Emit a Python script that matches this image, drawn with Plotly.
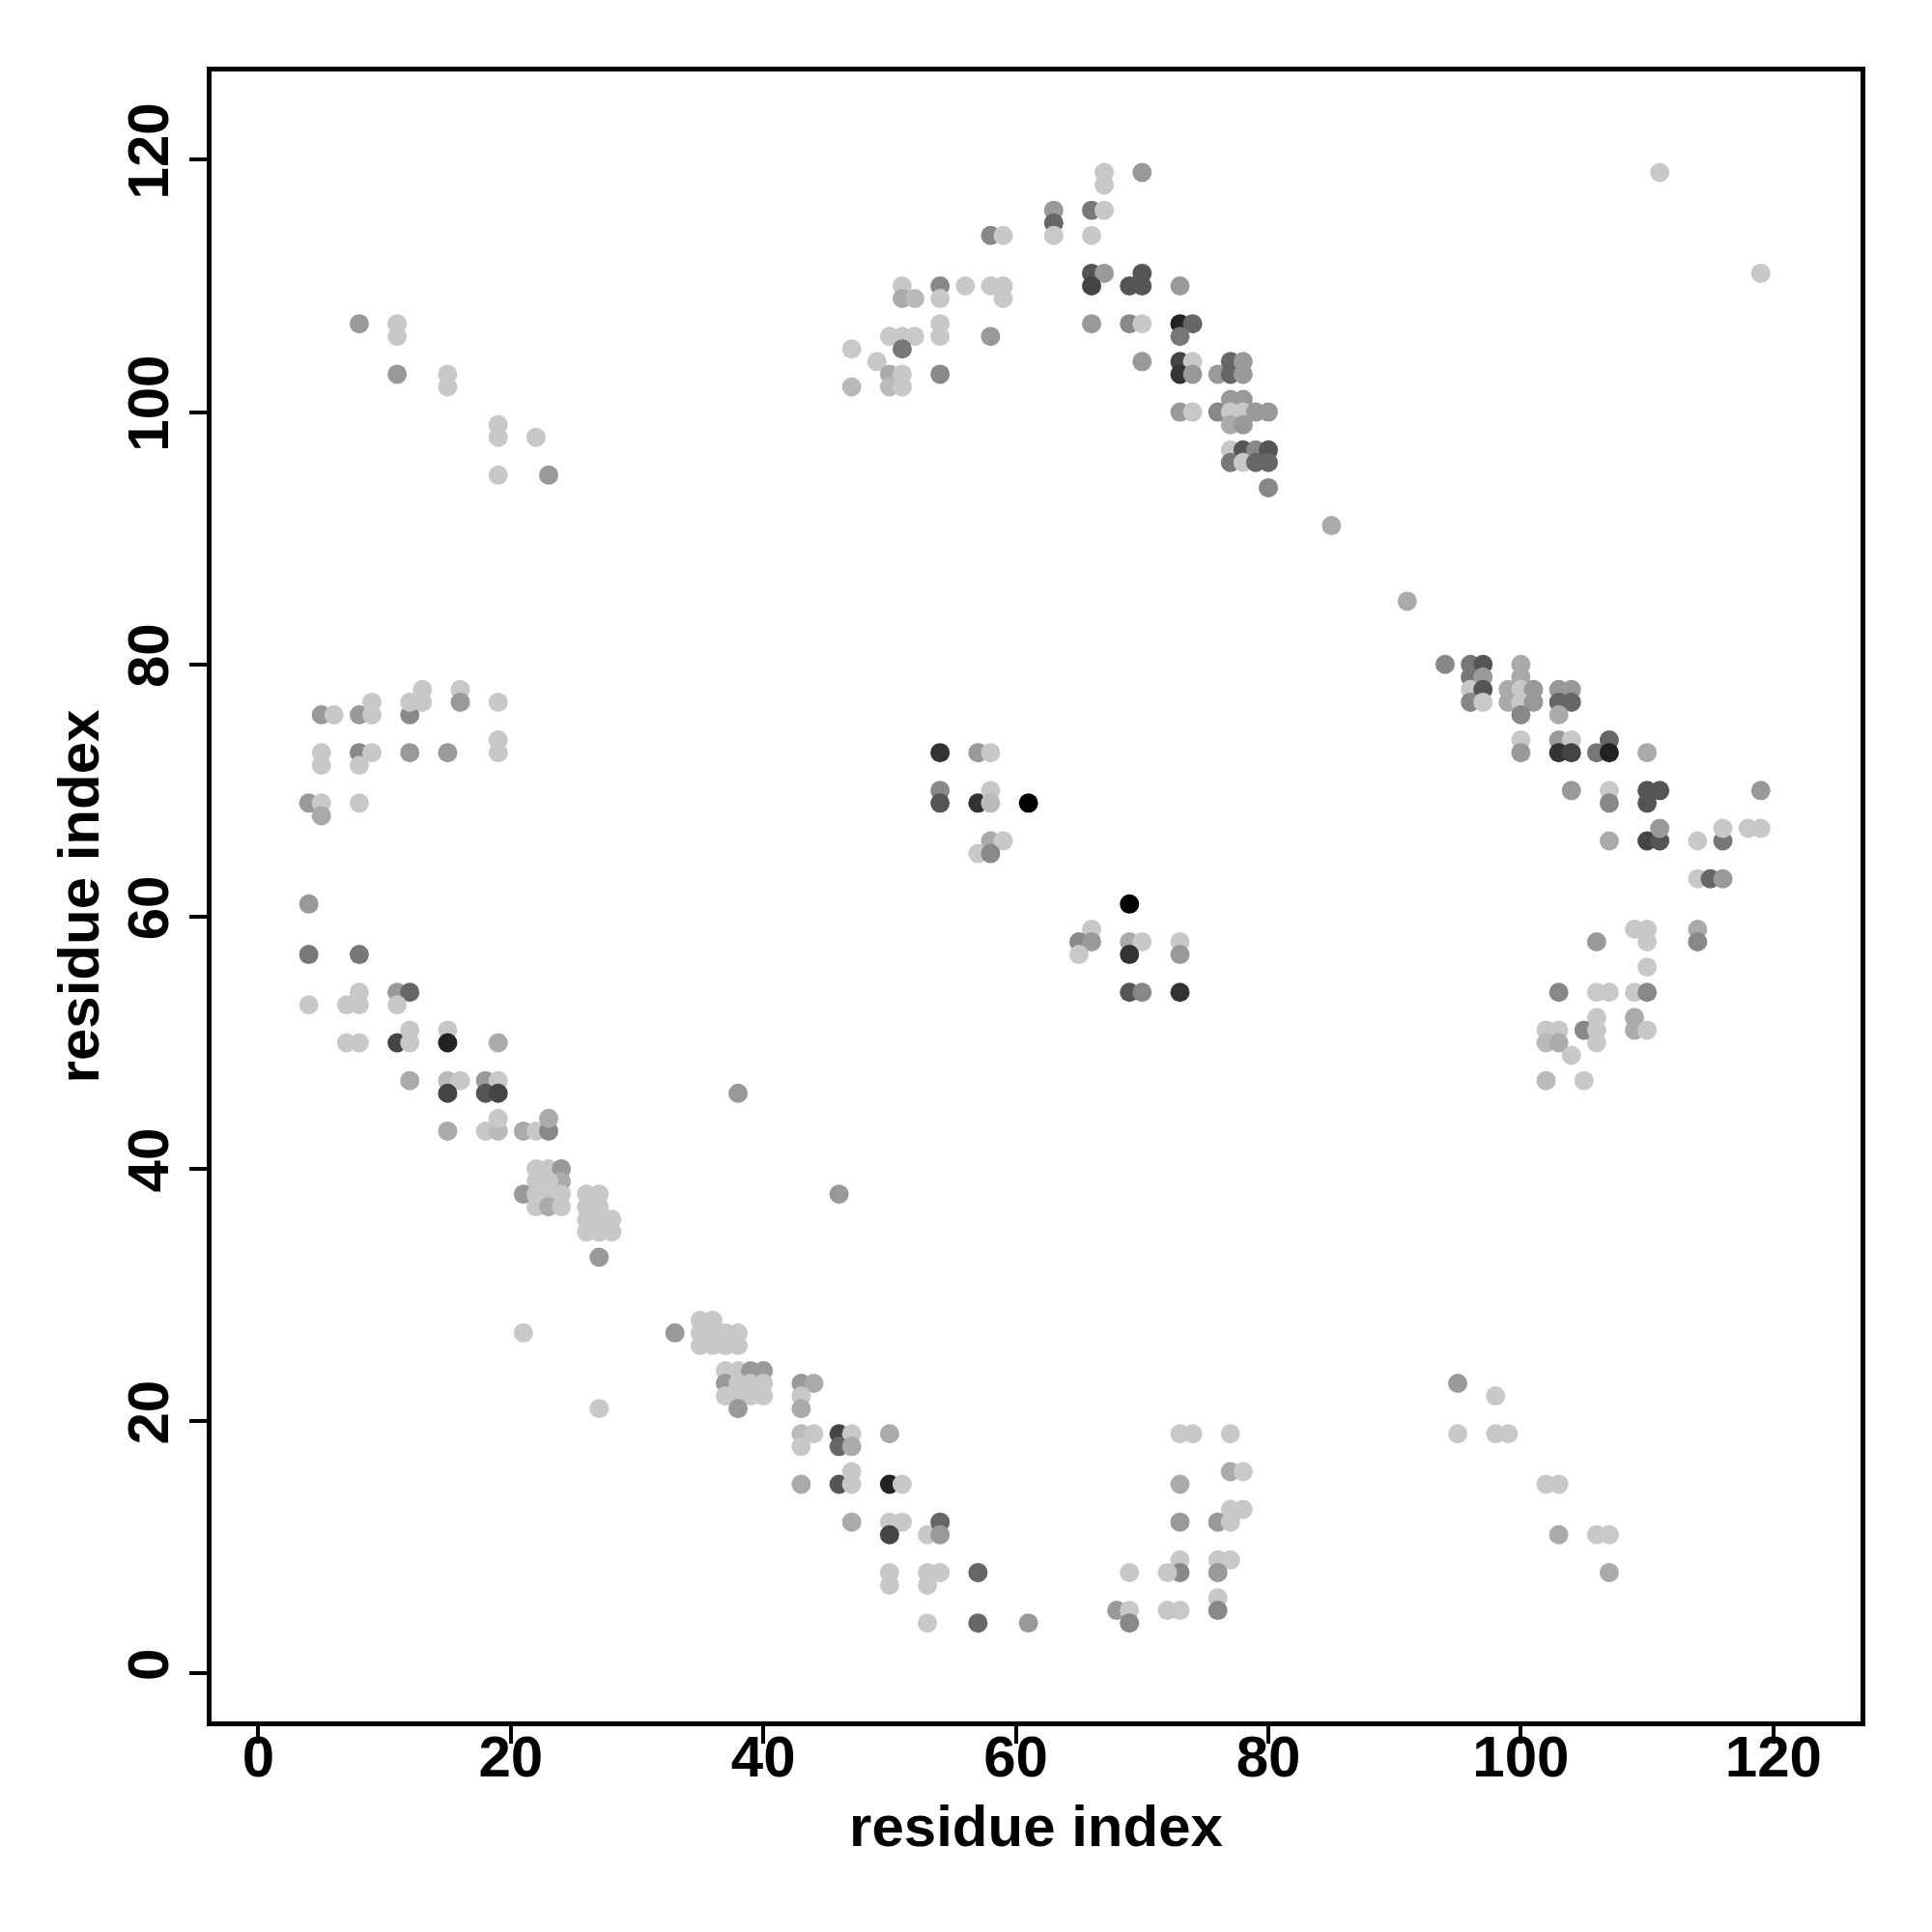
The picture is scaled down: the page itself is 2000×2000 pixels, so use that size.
import plotly.graph_objects as go

# shade codes: darkness level of each contact (C = lightest ... 0 = black)
shade_score = {"C": 0.0, "B": 0.07, "A": 0.15, "9": 0.235, "8": 0.32, "7": 0.405,
               "6": 0.49, "5": 0.575, "4": 0.66, "3": 0.745, "2": 0.83, "0": 1.0}

contacts = [
    (8,107,"9"),(11,107,"C"),(11,106,"C"),(11,103,"9"),(15,103,"C"),(15,102,"C"),(19,99,"C"),(19,98,"C"),(22,98,"C"),(19,95,"C"),(23,95,"9"),
    (67,119,"C"),(67,118,"C"),(70,119,"9"),(63,116,"9"),(63,115,"6"),(63,114,"C"),(66,116,"7"),(67,116,"C"),(66,114,"C"),(58,114,"8"),(59,114,"C"),
    (66,111,"5"),(67,111,"9"),(66,110,"4"),(70,111,"5"),(69,110,"5"),(70,110,"5"),(73,110,"9"),
    (51,110,"C"),(51,109,"A"),(52,109,"B"),(54,110,"8"),(54,109,"C"),(56,110,"C"),(58,110,"C"),(59,110,"C"),(59,109,"C"),
    (66,107,"9"),(69,107,"8"),(70,107,"C"),(73,107,"2"),(74,107,"6"),(73,106,"7"),(54,107,"C"),(54,106,"C"),
    (50,106,"C"),(51,106,"C"),(52,106,"C"),(51,105,"7"),(47,105,"C"),(49,104,"C"),(50,103,"A"),(51,103,"C"),(50,102,"B"),(51,102,"C"),(47,102,"B"),(54,103,"8"),(58,106,"9"),
    (70,104,"9"),(73,104,"4"),(74,104,"C"),(73,103,"3"),(74,103,"9"),(76,103,"9"),(77,104,"6"),(77,103,"6"),(78,104,"9"),(78,103,"9"),
    (73,100,"9"),(74,100,"C"),(76,100,"8"),(77,101,"9"),(78,101,"9"),(77,100,"C"),(78,100,"C"),(79,100,"9"),(80,100,"9"),(77,99,"A"),(78,99,"9"),
    (77,97,"C"),(78,97,"5"),(79,97,"8"),(80,97,"5"),(77,96,"7"),(78,96,"C"),(79,96,"6"),(80,96,"6"),(80,94,"8"),
    (111,119,"C"),(119,111,"C"),
    (5,76,"9"),(6,76,"C"),(8,76,"9"),(9,76,"C"),(9,77,"C"),(12,76,"8"),(12,77,"C"),(13,77,"C"),(13,78,"C"),(16,78,"C"),(16,77,"9"),(19,77,"C"),(19,74,"C"),(19,73,"C"),
    (5,73,"C"),(5,72,"C"),(8,73,"8"),(9,73,"C"),(8,72,"C"),(12,73,"9"),(15,73,"9"),(4,69,"9"),(5,69,"C"),(5,68,"A"),(8,69,"C"),
    (4,61,"9"),(4,57,"7"),(8,57,"7"),(4,53,"C"),(7,53,"C"),(8,53,"C"),(8,54,"C"),(11,54,"9"),(12,54,"6"),(11,53,"C"),
    (7,50,"C"),(8,50,"C"),(11,50,"4"),(12,50,"C"),(12,51,"C"),(15,51,"C"),(15,50,"2"),(19,50,"A"),
    (12,47,"A"),(15,47,"B"),(16,47,"C"),(15,46,"4"),(18,47,"9"),(19,47,"C"),(18,46,"5"),(19,46,"4"),
    (15,43,"A"),(18,43,"C"),(19,43,"B"),(19,44,"C"),(21,43,"A"),(22,43,"C"),(23,43,"8"),(23,44,"A"),
    (22,40,"C"),(23,40,"C"),(24,40,"9"),(24,39,"A"),(22,39,"C"),(23,39,"C"),(21,38,"9"),(22,38,"C"),(23,38,"C"),(24,38,"C"),(22,37,"C"),(23,37,"A"),(24,37,"C"),
    (26,38,"C"),(27,38,"C"),(26,37,"C"),(27,37,"C"),(26,36,"C"),(27,36,"C"),(28,36,"C"),(26,35,"C"),(27,35,"C"),(28,35,"C"),(27,33,"9"),(38,46,"9"),
    (21,27,"C"),(27,21,"C"),(33,27,"9"),(35,28,"C"),(36,28,"C"),(35,27,"C"),(36,27,"C"),(37,27,"C"),(38,27,"C"),(35,26,"C"),(36,26,"C"),(37,26,"C"),(38,26,"C"),
    (37,24,"C"),(38,24,"C"),(39,24,"9"),(37,23,"9"),(38,23,"C"),(39,23,"C"),(37,22,"C"),(38,22,"C"),(39,22,"C"),(38,21,"9"),
    (40,24,"9"),(40,23,"C"),(40,22,"C"),(43,23,"9"),(44,23,"A"),(43,22,"C"),(43,21,"A"),(43,19,"B"),(44,19,"C"),(43,18,"C"),(46,19,"4"),(47,19,"C"),(46,18,"6"),(47,18,"A"),(50,19,"A"),
    (43,15,"A"),(46,15,"5"),(47,15,"C"),(47,16,"C"),(50,15,"2"),(51,15,"C"),(47,12,"A"),(50,12,"C"),(51,12,"C"),(50,11,"4"),(53,11,"C"),(54,12,"6"),(54,11,"9"),
    (50,8,"C"),(50,7,"C"),(53,8,"C"),(54,8,"C"),(53,7,"C"),(57,8,"6"),(53,4,"C"),(57,4,"6"),(61,4,"9"),
    (73,19,"C"),(74,19,"C"),(77,19,"C"),(73,15,"A"),(77,16,"A"),(78,16,"C"),(73,12,"9"),(76,12,"9"),(77,12,"C"),(77,13,"C"),(78,13,"C"),
    (73,9,"C"),(73,8,"8"),(72,8,"C"),(69,8,"C"),(76,9,"C"),(77,9,"C"),(76,8,"9"),(76,6,"C"),(76,5,"8"),(68,5,"9"),(69,5,"C"),(69,4,"8"),(72,5,"C"),(73,5,"C"),
    (95,23,"9"),(98,22,"C"),(95,19,"C"),(98,19,"C"),(99,19,"C"),(102,15,"C"),(103,15,"C"),(103,11,"A"),(106,11,"C"),(107,11,"C"),(107,8,"A"),
    (109,59,"C"),(110,59,"C"),(110,58,"C"),(106,58,"9"),(114,59,"A"),(114,58,"8"),(110,56,"C"),(103,54,"8"),(106,54,"C"),(107,54,"C"),(109,54,"C"),(110,54,"8"),
    (102,51,"C"),(103,51,"C"),(105,51,"8"),(106,51,"C"),(106,52,"C"),(109,52,"A"),(109,51,"A"),(110,51,"C"),(102,50,"B"),(103,50,"A"),(106,50,"C"),(104,49,"C"),(102,47,"B"),(105,47,"C"),
    (85,91,"A"),(91,85,"A"),(94,80,"8"),(96,80,"7"),(97,80,"5"),(96,79,"7"),(97,79,"9"),(96,78,"C"),(97,78,"5"),(96,77,"8"),(97,77,"C"),
    (100,80,"A"),(100,79,"A"),(99,78,"A"),(100,78,"C"),(101,78,"9"),(99,77,"A"),(100,77,"C"),(101,77,"9"),(100,76,"8"),
    (103,78,"9"),(104,78,"9"),(103,77,"6"),(104,77,"6"),(103,76,"A"),
    (100,74,"C"),(100,73,"9"),(103,74,"9"),(104,74,"C"),(103,73,"3"),(104,73,"4"),(106,73,"7"),(107,74,"6"),(107,73,"2"),(110,73,"A"),
    (104,70,"9"),(107,70,"C"),(107,69,"8"),(110,70,"5"),(111,70,"5"),(110,69,"5"),(119,70,"9"),
    (107,66,"A"),(110,66,"4"),(111,66,"5"),(111,67,"9"),(114,66,"C"),(116,66,"7"),(116,67,"C"),(118,67,"C"),(119,67,"C"),
    (114,63,"C"),(115,63,"6"),(116,63,"9"),
    (54,73,"3"),(57,73,"9"),(58,73,"C"),(54,70,"8"),(54,69,"5"),(57,69,"3"),(58,70,"C"),(58,69,"B"),(61,69,"0"),(58,66,"A"),(59,66,"C"),(57,65,"C"),(58,65,"8"),
    (69,61,"0"),(66,59,"C"),(65,58,"8"),(66,58,"9"),(65,57,"C"),(69,58,"A"),(70,58,"C"),(69,57,"3"),(73,58,"C"),(73,57,"9"),(69,54,"5"),(70,54,"8"),(73,54,"3"),(46,38,"9"),
]

residue_i = [c[0] for c in contacts]
residue_j = [c[1] for c in contacts]
score = [shade_score[c[2]] for c in contacts]

tick_vals = [0, 20, 40, 60, 80, 100, 120]
axis_title = "residue index"

font = dict(family="Liberation Sans, Arial, sans-serif", size=60, color="black", weight="bold")

fig = go.Figure(go.Scatter(
    x=residue_i, y=residue_j, mode="markers",
    marker=dict(size=20, color=score, cmin=0, cmax=1,
                colorscale=[[0, "rgb(200,200,200)"], [1, "rgb(0,0,0)"]],
                line=dict(width=0)),
    showlegend=False, hoverinfo="x+y",
))

axis_common = dict(
    showgrid=False, zeroline=False, showline=True, linecolor="black", linewidth=4.5,
    mirror=True, ticks="outside", ticklen=18, tickwidth=4, tickcolor="black",
    tickvals=tick_vals, tickfont=font,
)
fig.update_layout(
    width=2000, height=2000,
    margin=dict(l=211, r=82, t=66, b=226),
    plot_bgcolor="white", paper_bgcolor="white",
    xaxis=dict(range=[-3.7, 126.9], ticklabelstandoff=-38,
               title=dict(text=axis_title, font=font, standoff=20), **axis_common),
    yaxis=dict(range=[-3.8, 127.0], tickangle=-90, ticklabelstandoff=-2,
               title=dict(text=axis_title, font=font, standoff=0), **axis_common),
)
fig.write_html("out.html")
